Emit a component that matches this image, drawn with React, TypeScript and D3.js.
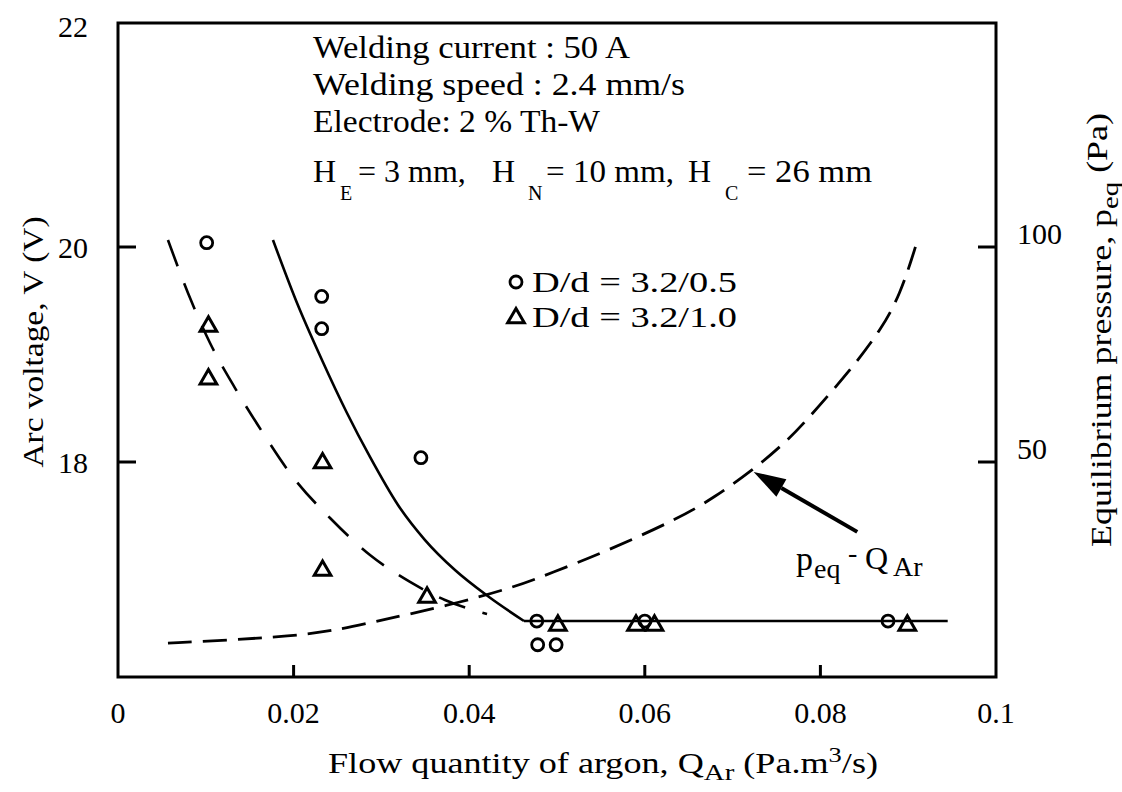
import * as d3 from 'd3'

// x: flow quantity of argon Q_Ar (Pa.m3/s), y: arc voltage (V)
const CIRCLE_Q = [0.0101, 0.0232, 0.0232, 0.0345, 0.0477, 0.0478, 0.0499, 0.06, 0.0877]
const CIRCLE_V = [20.04, 19.54, 19.24, 18.04, 16.52, 16.3, 16.3, 16.52, 16.52]

const TRI_Q = [0.0103, 0.0103, 0.0233, 0.0233, 0.0352, 0.0501, 0.059, 0.0611, 0.0899]
const TRI_V = [19.27, 18.78, 18.0, 17.0, 16.75, 16.49, 16.49, 16.49, 16.49]

// fitted arc voltage, D/d = 3.2/0.5 (solid), then the flat level
const SOLID_Q = [0.01765, 0.02039, 0.02323, 0.02608, 0.0287, 0.03189, 0.03497, 0.03838, 0.04226, 0.04624]
const SOLID_V = [20.065, 19.479, 18.949, 18.456, 18.047, 17.6, 17.274, 16.995, 16.744, 16.521]
const FLAT_Q = [0.04624, 0.0945]
const FLAT_V = [16.521, 16.521]

// fitted arc voltage, D/d = 3.2/1.0 (long dash)
const LDASH_Q = [0.00569, 0.00797, 0.01048, 0.01333, 0.01651, 0.01993, 0.02415, 0.0287, 0.03326, 0.03724, 0.04203]
const LDASH_V = [20.065, 19.572, 19.107, 18.688, 18.27, 17.86, 17.479, 17.135, 16.884, 16.716, 16.586]

// equilibrium pressure p_eq (Pa), right axis
const PEQ_Q = [0.00569, 0.01276, 0.01959, 0.02449, 0.03018, 0.03736, 0.04522, 0.04932, 0.05513, 0.06401,
  0.06777, 0.07232, 0.0762, 0.07847, 0.08337, 0.08713, 0.08907, 0.09055, 0.09112]
const PEQ_P = [7.9, 8.6, 9.5, 10.7, 13.3, 16.5, 20.9, 24.2, 28.8, 37.0,
  41.6, 48.1, 54.9, 59.8, 71.2, 81.4, 89.1, 98.1, 102.1]

const X_TICKS = [0, 0.02, 0.04, 0.06, 0.08, 0.1]
const X_LABELS = ['0', '0.02', '0.04', '0.06', '0.08', '0.1']
const V_TICKS = [18, 20, 22]
const P_TICKS = [50, 100]

const INFO = ['Welding current : 50 A', 'Welding speed : 2.4 mm/s', 'Electrode: 2 % Th-W']
const LEGEND = ['D/d = 3.2/0.5', 'D/d = 3.2/1.0']

const FONT = '"Liberation Serif", "Times New Roman", serif'

export default function App() {
  const width = 1122
  const height = 792
  const left = 118
  const right = 996
  const top = 23
  const bottom = 677

  const x = d3.scaleLinear().domain([0, 0.1]).range([left, right])
  const yV = d3.scaleLinear().domain([16, 22]).range([bottom, 32])
  const yP = d3.scaleLinear().domain([0, 150]).range([bottom, 32])

  const curve = (qs: number[], vs: number[], ys: d3.ScaleLinear<number, number>, c: d3.CurveFactory) =>
    d3.line<[number, number]>()
      .x(d => x(d[0]))
      .y(d => ys(d[1]))
      .curve(c)(qs.map((q, i) => [q, vs[i]]))

  const tri = d3.symbol(d3.symbolTriangle, 120)()

  // arrow pointing at the p_eq curve
  const tail = [x(0.0842), yV(17.35)]
  const tip = [x(0.0724), yV(17.907)]
  const ang = Math.atan2(tip[1] - tail[1], tip[0] - tail[0])
  const headLen = 32
  const headW = 10
  const base = [tip[0] - headLen * Math.cos(ang), tip[1] - headLen * Math.sin(ang)]
  const head = [
    tip,
    [base[0] + headW * Math.sin(ang), base[1] - headW * Math.cos(ang)],
    [base[0] - headW * Math.sin(ang), base[1] + headW * Math.cos(ang)],
  ]

  return (
    <svg width={width} height={height} style={{ position: 'absolute', left: 0, top: 0, background: '#fff' }}
      fontFamily={FONT}>
      {/* frame */}
      <rect x={left} y={top} width={right - left} height={bottom - top} fill="none" stroke="#000" strokeWidth={3} />

      {/* bottom ticks */}
      {X_TICKS.map((t, i) => (
        <g key={t}>
          {i > 0 && i < X_TICKS.length - 1 && (
            <line x1={x(t)} x2={x(t)} y1={bottom} y2={bottom - 12} stroke="#000" strokeWidth={3} />
          )}
          <text x={x(t)} y={723} fontSize={30} textAnchor="middle">{X_LABELS[i]}</text>
        </g>
      ))}

      {/* left ticks */}
      {V_TICKS.map(t => (
        <g key={t}>
          {t < 22 && <line x1={left} x2={left + 18} y1={yV(t)} y2={yV(t)} stroke="#000" strokeWidth={3} />}
          <text x={88} y={t === 22 ? 26 : yV(t)} fontSize={30} textAnchor="end" dominantBaseline="central">{t}</text>
        </g>
      ))}

      {/* right ticks */}
      {P_TICKS.map(t => (
        <g key={t}>
          <line x1={right - 18} x2={right} y1={yP(t)} y2={yP(t)} stroke="#000" strokeWidth={3} />
          <text x={1017} y={yP(t) - 14} fontSize={30} dominantBaseline="central">{t}</text>
        </g>
      ))}

      {/* axis titles */}
      <text x={328} y={773} fontSize={30} textLength={550} lengthAdjust="spacingAndGlyphs">
        Flow quantity of argon, Q<tspan fontSize={24} dy={7}>Ar</tspan>
        <tspan dy={-7}> (Pa.m</tspan><tspan fontSize={22} dy={-11}>3</tspan><tspan dy={11}>/s)</tspan>
      </text>
      <text transform="translate(43,342) rotate(-90)" fontSize={30} textAnchor="middle"
        textLength={251} lengthAdjust="spacingAndGlyphs">Arc voltage, V (V)</text>
      <text transform="translate(1111,330) rotate(-90)" fontSize={30} textAnchor="middle"
        textLength={434} lengthAdjust="spacingAndGlyphs">
        Equilibrium pressure, p<tspan fontSize={24} dy={7}>eq</tspan><tspan dy={-11}> (Pa)</tspan>
      </text>

      {/* conditions */}
      {INFO.map((s, i) => (
        <text key={s} x={313} y={58 + i * 37} fontSize={32}
          textLength={[317, 372, 287][i]} lengthAdjust="spacingAndGlyphs">{s}</text>
      ))}
      <g fontSize={32}>
        <text x={313} y={182}>H</text>
        <text x={340} y={200} fontSize={20}>E</text>
        <text x={358} y={182}>= 3 mm,</text>
        <text x={492} y={182}>H</text>
        <text x={528} y={200} fontSize={20}>N</text>
        <text x={546} y={182} textLength={128} lengthAdjust="spacingAndGlyphs">= 10 mm,</text>
        <text x={688} y={182}>H</text>
        <text x={725} y={200} fontSize={20}>C</text>
        <text x={747} y={182} textLength={125} lengthAdjust="spacingAndGlyphs">= 26 mm</text>
      </g>

      {/* legend */}
      <circle cx={516} cy={282} r={6} fill="none" stroke="#000" strokeWidth={2.8} />
      <path d={tri!} transform="translate(516,318)" fill="none" stroke="#000" strokeWidth={3} />
      {LEGEND.map((s, i) => (
        <text key={s} x={532} y={292 + i * 35} fontSize={30} textLength={205} lengthAdjust="spacingAndGlyphs">{s}</text>
      ))}

      {/* curves */}
      <path d={curve(SOLID_Q, SOLID_V, yV, d3.curveMonotoneX)!} fill="none" stroke="#000" strokeWidth={2.6} />
      <path d={curve(FLAT_Q, FLAT_V, yV, d3.curveLinear)!} fill="none" stroke="#000" strokeWidth={2.6} />
      <path d={curve(LDASH_Q, LDASH_V, yV, d3.curveMonotoneX)!} fill="none" stroke="#000" strokeWidth={2.6}
        strokeDasharray="28,18" />
      <path d={curve(PEQ_Q, PEQ_P, yP, d3.curveBasis)!} fill="none" stroke="#000" strokeWidth={2.8}
        strokeDasharray="24,11" />

      {/* data points */}
      {CIRCLE_Q.map((q, i) => (
        <circle key={'c' + i} cx={x(q)} cy={yV(CIRCLE_V[i])} r={6} fill="none" stroke="#000" strokeWidth={2.8} />
      ))}
      {TRI_Q.map((q, i) => (
        <path key={'t' + i} d={tri!} transform={`translate(${x(q)},${yV(TRI_V[i]) + 1})`}
          fill="none" stroke="#000" strokeWidth={3} />
      ))}

      {/* annotation */}
      <line x1={tail[0]} y1={tail[1]} x2={base[0]} y2={base[1]} stroke="#000" strokeWidth={4} />
      <polygon points={head.map(p => p.join(',')).join(' ')} fill="#000" />
      <text x={796} y={570} fontSize={34}>p</text>
      <text x={814} y={578} fontSize={28}>eq</text>
      <text x={848} y={562} fontSize={28}>-</text>
      <text x={865} y={569} fontSize={32}>Q</text>
      <text x={893} y={576} fontSize={28}>Ar</text>
    </svg>
  )
}
